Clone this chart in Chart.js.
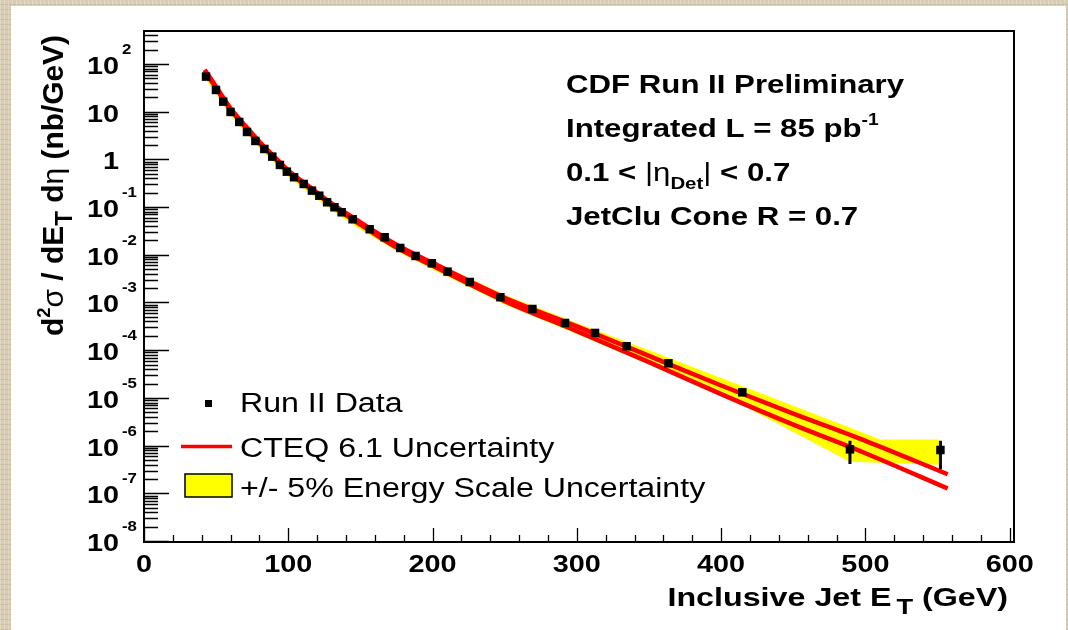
<!DOCTYPE html>
<html>
<head>
<meta charset="utf-8">
<title>Inclusive Jet Cross Section</title>
<script src="https://cdn.jsdelivr.net/npm/chart.js@4.4.1/dist/chart.umd.min.js"></script>
<style>
  html, body { margin: 0; padding: 0; }
  body {
    width: 1068px; height: 630px; overflow: hidden; position: relative;
    background-color: #d8cdb2;
    background-image:
      repeating-linear-gradient(90deg, rgba(255,255,255,0.22) 0 1px, transparent 1px 4px),
      repeating-linear-gradient(0deg, rgba(120,100,60,0.14) 0 1px, transparent 1px 5px);
  }
  #panel { position: absolute; left: 11px; top: 6px; width: 1055px; height: 624px; background: #fff; }
  #plot { position: absolute; left: 0; top: 0; }
</style>
</head>
<body>
<div id="panel"></div>
<canvas id="plot" width="1068" height="630"></canvas>
<script>
// Measured points (jet ET in GeV, cross section in nb/GeV)
const dataEt = [43.0, 49.9, 54.9, 60.0, 66.0, 71.4, 77.2, 83.4, 88.9, 94.2, 99.0, 104.0, 110.7, 116.4, 121.5,
  126.9, 132.0, 137.0, 144.6, 156.4, 166.8, 177.6, 188.2, 199.5, 210.4, 225.8, 247.0, 269.2, 291.8, 312.6,
  334.5, 363.5, 414.7, 489.3, 552.0];
const dataXsec = [54.2, 28.5, 16.2, 9.86, 6.08, 3.75, 2.43, 1.65, 1.14, 0.764, 0.552, 0.422, 0.305, 0.221, 0.173,
  0.126, 0.0991, 0.0778, 0.0555, 0.0343, 0.0233, 0.0139, 0.00944, 0.00664, 0.00443, 0.00269, 0.00129, 7.31e-4, 3.72e-4, 2.30e-4,
  1.21e-4, 5.31e-5, 1.31e-5, 8.36e-7, 8.09e-7];

// Visible error bars on the last two bins
const errEt = [489.3, 552.0];
const errHigh = [1.27e-6, 1.27e-6];
const errLow = [4.1e-7, 3.2e-7];

// CTEQ 6.1 uncertainty, upper and lower curves
const theoryEt = [42, 50, 60, 70, 80, 90, 100, 115, 130, 150, 175, 200, 250, 300, 350, 400, 450, 500, 557];
const cteqHigh = [75.9, 33.1, 11.7, 5.13, 2.34, 1.17, 0.589, 0.263, 0.120, 0.0479, 0.0162, 0.00676, 0.00126, 3.16e-4,
  7.59e-5, 1.82e-5, 4.68e-6, 1.26e-6, 2.51e-7];
const cteqLow = [70.8, 30.9, 11.0, 4.79, 2.19, 1.10, 0.550, 0.245, 0.110, 0.0427, 0.0141, 0.00589, 0.00107, 2.51e-4,
  5.62e-5, 1.20e-5, 2.75e-6, 6.92e-7, 1.26e-7];

// +/- 5% energy scale band
const bandEt = [42, 50, 60, 70, 80, 90, 100, 115, 130, 150, 175, 200, 250, 300, 350, 419, 489, 510, 551];
const bandHigh = [75.9, 33.1, 11.7, 5.13, 2.34, 1.17, 0.589, 0.269, 0.123, 0.0501, 0.0174, 0.00741, 0.00145, 3.72e-4,
  1.0e-4, 1.58e-5, 2.40e-6, 1.35e-6, 1.35e-6];
const bandLow = [50.1, 23.4, 8.32, 3.72, 1.70, 0.851, 0.427, 0.191, 0.0851, 0.0339, 0.0120, 0.00490, 9.12e-4, 2.19e-4,
  5.01e-5, 6.03e-6, 4.57e-7, 4.37e-7, 3.98e-7];

// Axis ticks and labels
const xTicks = [0, 100, 200, 300, 400, 500, 600];
const xTickLabels = ['0', '100', '200', '300', '400', '500', '600'];
const yTicks = [1e2, 1e1, 1, 1e-1, 1e-2, 1e-3, 1e-4, 1e-5, 1e-6, 1e-7, 1e-8];
const yTickBase = ['10', '10', '1', '10', '10', '10', '10', '10', '10', '10', '10'];
const yTickExp = ['2', '', '', '-1', '-2', '-3', '-4', '-5', '-6', '-7', '-8'];

const legendLabels = ['Run II Data', 'CTEQ 6.1 Uncertainty', '+/- 5% Energy Scale Uncertainty'];

const FONT = '"Liberation Sans", Arial, Helvetica, sans-serif';
const SX = 1.2; // text is drawn slightly wide

function pts(xs, ys) {
  return xs.map((x, i) => ({ x: x, y: ys[i] }));
}

// Draw a run of text pieces, each may be raised, lowered or resized
function drawRich(ctx, parts, x, y, o) {
  const font = (p) => `${p.w || o.weight || 'bold'} ${Math.round(o.size * (p.scale || 1))}px ${FONT}`;
  ctx.save();
  ctx.translate(x, y);
  if (o.rotate) ctx.rotate(o.rotate);
  ctx.scale(o.sx || 1, o.sy || 1);
  let total = 0;
  for (const p of parts) {
    ctx.font = font(p);
    total += ctx.measureText(p.t).width + (p.dx || 0);
  }
  let cx = o.align === 'right' ? -total : o.align === 'center' ? -total / 2 : 0;
  ctx.fillStyle = '#000';
  ctx.textAlign = 'left';
  ctx.textBaseline = 'alphabetic';
  for (const p of parts) {
    ctx.font = font(p);
    ctx.fillText(p.t, cx + (p.dx || 0), (p.dy || 0) * o.size);
    cx += ctx.measureText(p.t).width + (p.dx || 0);
  }
  ctx.restore();
}

const rootFrame = {
  id: 'rootFrame',
  afterDatasetsDraw(chart) {
    const { ctx, chartArea: a, scales: { x, y } } = chart;
    ctx.save();

    // error bars
    ctx.strokeStyle = '#000';
    ctx.lineWidth = 3;
    ctx.beginPath();
    errEt.forEach((et, i) => {
      const px = x.getPixelForValue(et);
      ctx.moveTo(px, y.getPixelForValue(errHigh[i]));
      ctx.lineTo(px, y.getPixelForValue(errLow[i]));
    });
    ctx.stroke();

    // ticks drawn inward
    ctx.lineWidth = 1.3;
    ctx.beginPath();
    for (let v = 0; v <= x.max; v += 20) {
      const px = Math.round(x.getPixelForValue(v)) + 0.5;
      const len = v % 100 === 0 ? 14 : 7;
      ctx.moveTo(px, a.bottom);
      ctx.lineTo(px, a.bottom - len);
    }
    for (let k = -9; k <= 2; k++) {
      for (let m = 1; m <= 9; m++) {
        const v = m * Math.pow(10, k);
        if (v < y.min || v > y.max) continue;
        const py = Math.round(y.getPixelForValue(v)) + 0.5;
        ctx.moveTo(a.left, py);
        ctx.lineTo(a.left + (m === 1 ? 25 : 14), py);
      }
    }
    ctx.stroke();

    // frame
    ctx.lineWidth = 2;
    ctx.strokeRect(a.left, a.top, a.right - a.left, a.bottom - a.top);

    // x tick labels
    xTicks.forEach((v, i) => {
      drawRich(ctx, [{ t: xTickLabels[i] }], x.getPixelForValue(v), a.bottom + 30,
        { size: 24, sx: SX, align: 'center' });
    });

    // y tick labels
    yTicks.forEach((v, i) => {
      const py = y.getPixelForValue(v);
      drawRich(ctx, [{ t: yTickBase[i] }], 119, py + 10, { size: 24, sx: SX, align: 'right' });
      if (yTickExp[i]) {
        drawRich(ctx, [{ t: yTickExp[i] }], 122, py - 10, { size: 14, sx: SX });
      }
    });

    // axis titles
    drawRich(ctx, [
      { t: 'Inclusive Jet E' }, { t: 'T', scale: 0.85, dy: 0.3, dx: 4 }, { t: ' (GeV)' }
    ], 1008, 606, { size: 26, sx: 1.24, align: 'right' });

    drawRich(ctx, [
      { t: 'd' }, { t: '2', scale: 0.6, dy: -0.45 }, { t: 'σ', w: 'normal' }, { t: ' / dE' },
      { t: 'T', scale: 0.8, dy: 0.3 }, { t: ' d' }, { t: 'η', w: 'normal' }, { t: ' (nb/GeV)' }
    ], 63, 35, { size: 26, sx: 1.15, sy: 1.15, align: 'right', rotate: -Math.PI / 2 });

    // run information
    drawRich(ctx, [{ t: 'CDF Run II Preliminary' }], 566, 93, { size: 26, sx: SX });
    drawRich(ctx, [{ t: 'Integrated L = 85 pb' }, { t: '-1', scale: 0.6, dy: -0.45 }], 566, 137, { size: 26, sx: SX });
    drawRich(ctx, [
      { t: '0.1 < ' }, { t: '|η', w: 'normal' }, { t: 'Det', scale: 0.65, dy: 0.3 },
      { t: '|', w: 'normal' }, { t: ' < 0.7' }
    ], 566, 181, { size: 26, sx: SX });
    drawRich(ctx, [{ t: 'JetClu Cone R = 0.7' }], 566, 225, { size: 26, sx: SX });

    // legend
    ctx.fillStyle = '#000';
    ctx.fillRect(205, 400, 7, 7);
    ctx.strokeStyle = '#ff0000';
    ctx.lineWidth = 3.5;
    ctx.beginPath();
    ctx.moveTo(181, 446.5);
    ctx.lineTo(232, 446.5);
    ctx.stroke();
    ctx.fillStyle = '#ffff00';
    ctx.fillRect(185, 474, 47, 23);
    ctx.strokeStyle = '#000';
    ctx.lineWidth = 1.5;
    ctx.strokeRect(185, 474, 47, 23);
    [412, 457, 497].forEach((by, i) => {
      drawRich(ctx, [{ t: legendLabels[i] }], 240, by, { size: 27, sx: 1.19, weight: 'normal' });
    });

    ctx.restore();
  }
};

new Chart(document.getElementById('plot').getContext('2d'), {
  type: 'line',
  data: {
    datasets: [
      {
        label: legendLabels[0],
        data: pts(dataEt, dataXsec),
        showLine: false,
        pointStyle: 'rect',
        pointRadius: 6,
        pointBackgroundColor: '#000',
        pointBorderWidth: 0,
        order: 0
      },
      {
        label: legendLabels[1],
        data: pts(theoryEt, cteqHigh),
        borderColor: '#ff0000',
        borderWidth: 4.5,
        pointRadius: 0,
        cubicInterpolationMode: 'monotone',
        fill: false,
        order: 1
      },
      {
        label: legendLabels[1] + ' (low)',
        data: pts(theoryEt, cteqLow),
        borderColor: '#ff0000',
        borderWidth: 4.5,
        pointRadius: 0,
        cubicInterpolationMode: 'monotone',
        fill: false,
        order: 1
      },
      {
        label: legendLabels[2],
        data: pts(bandEt, bandHigh),
        borderColor: 'transparent',
        borderWidth: 0,
        backgroundColor: '#ffff00',
        pointRadius: 0,
        tension: 0,
        fill: '+1',
        order: 2
      },
      {
        label: legendLabels[2] + ' (low)',
        data: pts(bandEt, bandLow),
        borderColor: 'transparent',
        borderWidth: 0,
        pointRadius: 0,
        tension: 0,
        fill: false,
        order: 2
      }
    ]
  },
  options: {
    responsive: false,
    animation: false,
    events: [],
    layout: { padding: { left: 144, right: 54, top: 31, bottom: 88 } },
    plugins: { legend: { display: false }, tooltip: { enabled: false } },
    scales: {
      x: { type: 'linear', min: 0, max: 603, display: false },
      y: { type: 'logarithmic', min: 9.55e-9, max: 490, display: false }
    }
  },
  plugins: [rootFrame]
});
</script>
</body>
</html>
